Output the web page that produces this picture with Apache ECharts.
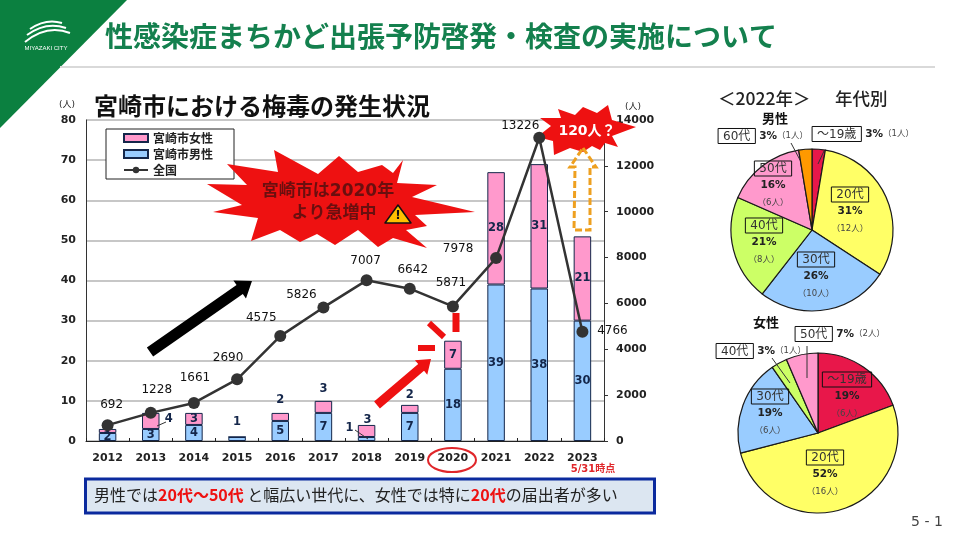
<!DOCTYPE html>
<html>
<head>
<meta charset="utf-8">
<title>宮崎市における梅毒の発生状況</title>
<script src="https://cdn.jsdelivr.net/npm/echarts@6/dist/echarts.min.js"></script>
<style>
    html, body { margin: 0; padding: 0; background: #fff; }
    #main { width: 960px; height: 540px; }
</style>
</head>
<body>
<div id="main"></div>
<script>
// 棒グラフ・折れ線のデータ
let years = ['2012', '2013', '2014', '2015', '2016', '2017', '2018', '2019', '2020', '2021', '2022', '2023'];
let maleCases = [2, 3, 4, 1, 5, 7, 1, 7, 18, 39, 38, 30];
let femaleCases = [1, 4, 3, 0, 2, 3, 3, 2, 7, 28, 31, 21];
let nationalCases = [692, 1228, 1661, 2690, 4575, 5826, 7007, 6642, 5871, 7978, 13226, 4766];

// 円グラフのデータ(2022年)
let maleAges = ['～19歳', '20代', '30代', '40代', '50代', '60代'];
let maleCounts = [1, 12, 10, 8, 6, 1];
let malePercents = [3, 31, 26, 21, 16, 3];
let femaleAges = ['～19歳', '20代', '30代', '40代', '50代'];
let femaleCounts = [6, 16, 6, 1, 2];
let femalePercents = [19, 52, 19, 3, 7];

let FONT = '"DejaVu Sans", "Noto Sans CJK JP", sans-serif';
let JP_FONT = '"Noto Sans CJK JP", sans-serif';
let AXIS_TEXT = '#222';
let RED = '#ee1111';

// ラベルの位置調整 (index -> [dx, dy])
let maleLabelOffset = {3: [0, -17], 6: [-17, -11]};
let femaleLabelOffset = {1: [18, -2], 4: [0, -17], 5: [0, -18], 6: [1, -11], 7: [0, -14]};
let nationalLabelOffset = [
    [4, -20], [6, -23], [1, -25], [-9, -21], [-19, -18], [-22, -13],
    [-1, -19], [3, -19], [-2, -24], [-38, -9], [-19, -12], [30, -1]
];

// 円グラフのラベル中心
let maleLabelPos = [[863, 134], [850, 212], [816, 277], [764, 243], [773, 186], [763, 136]];
let femaleLabelPos = [[847, 397], [825, 475], [770, 414], [761, 351], [840, 334]];
let maleColors = ['#e8174a', '#ffff66', '#99ccff', '#ccff66', '#ff99cc', '#ff9900'];
let femaleColors = ['#e8174a', '#ffff66', '#99ccff', '#ccff66', '#ff99cc'];

function barItems(values, offsets) {
    return values.map(function (value, i) {
        let label = {show: value > 0};
        if (offsets[i]) {
            label.offset = offsets[i];
        }
        return {value: value, label: label};
    });
}

function pieSeries(ages, counts, percents, colors, positions, center, radius) {
    return {
        type: 'pie',
        center: center,
        radius: radius,
        startAngle: 90,
        clockwise: true,
        silent: true,
        animation: false,
        data: ages.map(function (age, i) {
            return {name: age, value: counts[i], itemStyle: {color: colors[i]}};
        }),
        itemStyle: {borderColor: '#1a1a1a', borderWidth: 1.2},
        labelLine: {show: false},
        label: {
            show: true,
            position: 'inside',
            color: '#333',
            fontFamily: FONT,
            formatter: function (params) {
                let i = params.dataIndex;
                let n = '（' + counts[i] + '人）';
                if (percents[i] <= 7) {
                    return '{box|' + ages[i] + '} {pct|' + percents[i] + '%}{cnt|' + n + '}';
                }
                return '{box|' + ages[i] + '}\n{pct|' + percents[i] + '%}\n{cnt|' + n + '}';
            },
            rich: {
                box: {
                    fontFamily: FONT, fontSize: 12, color: '#333', lineHeight: 14,
                    borderColor: '#111', borderWidth: 1, padding: [2, 5, 1, 5]
                },
                pct: {fontFamily: FONT, fontSize: 10.5, fontWeight: 'bold', color: '#222', lineHeight: 20},
                cnt: {fontFamily: FONT, fontSize: 8.5, color: '#444', lineHeight: 15}
            }
        },
        labelLayout: function (params) {
            let p = positions[params.dataIndex];
            return {x: p[0], y: p[1], align: 'center', verticalAlign: 'middle'};
        }
    };
}

// 矢印のポリゴンを作る
function arrowPoints(x0, y0, x1, y1, shaft, head, headLength) {
    let len = Math.sqrt((x1 - x0) * (x1 - x0) + (y1 - y0) * (y1 - y0));
    let ux = (x1 - x0) / len, uy = (y1 - y0) / len;
    let nx = -uy, ny = ux;
    let bx = x1 - ux * headLength, by = y1 - uy * headLength;
    return [
        [x0 + nx * shaft / 2, y0 + ny * shaft / 2],
        [bx + nx * shaft / 2, by + ny * shaft / 2],
        [bx + nx * head / 2, by + ny * head / 2],
        [x1, y1],
        [bx - nx * head / 2, by - ny * head / 2],
        [bx - nx * shaft / 2, by - ny * shaft / 2],
        [x0 - nx * shaft / 2, y0 - ny * shaft / 2]
    ];
}

function polygon(points, style, z) {
    return {type: 'polygon', silent: true, z: z, shape: {points: points}, style: style};
}

function line(x1, y1, x2, y2, color, width, z) {
    return {
        type: 'line', silent: true, z: z,
        shape: {x1: x1, y1: y1, x2: x2, y2: y2},
        style: {stroke: color, lineWidth: width}
    };
}

function curve(x1, y1, cpx, cpy, x2, y2) {
    return {
        type: 'bezierCurve', silent: true, z: 2,
        shape: {x1: x1, y1: y1, x2: x2, y2: y2, cpx1: cpx, cpy1: cpy},
        style: {stroke: '#fff', lineWidth: 2, fill: null}
    };
}

function text(x, y, str, font, color, z, align) {
    return {
        type: 'text', silent: true, z: z, x: x, y: y,
        style: {text: str, font: font, fill: color, align: align || 'center', verticalAlign: 'middle'}
    };
}

let bigStar = [
    [227, 164], [278, 172], [274, 150], [318, 174], [339, 156], [358, 172], [382, 165], [393, 173], [403, 160],
    [397, 183], [437, 185], [412, 197], [475, 212], [415, 215], [427, 226], [406, 230], [427, 248], [393, 238],
    [378, 247], [358, 230], [335, 245], [317, 234], [300, 242], [280, 230], [251, 241], [258, 218], [213, 212],
    [242, 205], [207, 184], [247, 185]
];
let smallStar = [
    [636, 127], [612, 120], [608, 105], [597, 113], [583, 107], [575, 115], [558, 109], [561, 118], [540, 118],
    [551, 126], [537, 137], [553, 141], [554, 155], [570, 148], [583, 152], [592, 146], [600, 150], [605, 143],
    [618, 147], [612, 136]
];
let orangeArrow = [
    [583, 148], [596, 167], [590, 167], [590, 230], [574, 230], [575, 167], [570, 167]
];

let graphicElements = [
    // ヘッダー
    polygon([[0, 0], [127, 0], [0, 128]], {fill: '#0b8040'}, 1),
    curve(30, 29, 46, 18, 62, 23),
    curve(27, 35, 46, 21, 66, 28),
    curve(25, 42, 47, 24, 70, 33),
    text(46, 48, 'MIYAZAKI CITY', '6px "Liberation Sans", sans-serif', '#fff', 2),
    line(60, 67, 935, 67, '#d9d9d9', 2, 1),
    // 吹き出し
    polygon(bigStar, {fill: '#ee1111'}, 20),
    text(328, 192, '宮崎市は2020年', 'bold 17px ' + FONT, '#6a0f0f', 21),
    text(334, 214, 'より急増中', 'bold 17px ' + FONT, '#6a0f0f', 21),
    polygon([[398, 205], [411, 223], [385, 223]], {fill: '#ffc000', stroke: '#111', lineWidth: 1.5, lineJoin: 'round'}, 21),
    text(398, 216, '!', 'bold 12px ' + FONT, '#111', 22),
    polygon(smallStar, {fill: '#ee1111'}, 1),
    text(587, 131, '120人？', 'bold 14px ' + FONT, '#fff', 3),
    polygon(orangeArrow, {fill: null, stroke: '#eea020', lineWidth: 3, lineDash: [7, 3]}, 3),
    // 矢印と強調
    polygon(arrowPoints(150, 352, 252, 281, 11, 22, 15), {fill: '#000'}, 10),
    polygon(arrowPoints(377, 405, 431, 359, 9, 19, 13), {fill: RED}, 10),
    line(429, 323, 444, 337, RED, 6, 10),
    line(418, 348, 435, 348, RED, 6, 10),
    line(456, 313, 456, 332, RED, 7, 10),
    {
        type: 'ellipse', silent: true, z: 10,
        shape: {cx: 452, cy: 460, rx: 24, ry: 12},
        style: {fill: null, stroke: '#e0262a', lineWidth: 2}
    },
    text(593, 469, '5/31時点', 'bold 10px ' + FONT, '#e0262a', 10),
    // 棒の引き出し線
    line(157, 426, 166, 422, '#333', 1, 10),
    line(355, 430, 368, 439, '#333', 1, 10),
    // 説明ボックス
    {
        type: 'rect', silent: true, z: 5,
        shape: {x: 85.5, y: 479, width: 569, height: 34},
        style: {fill: '#dce6f1', stroke: '#0b2a9e', lineWidth: 3}
    },
    {
        type: 'text', silent: true, z: 6, x: 94, y: 495,
        style: {
            text: '男性では{hl|20代～50代} と幅広い世代に、女性では特に{hl|20代}の届出者が多い',
            font: '16px ' + JP_FONT,
            fill: '#222',
            verticalAlign: 'middle',
            rich: {hl: {font: 'bold 16px ' + JP_FONT, fill: RED}}
        }
    },
    // 円グラフの見出し
    text(718, 98, '＜2022年＞', '500 17.5px ' + JP_FONT, '#222', 5, 'left'),
    text(835, 98, '年代別', '500 17.5px ' + JP_FONT, '#222', 5, 'left'),
    text(775, 118, '男性', 'bold 13px ' + JP_FONT, '#111', 5),
    text(766, 322, '女性', 'bold 13px ' + JP_FONT, '#111', 5),
    // 円グラフの引き出し線
    line(791, 143, 800, 160, '#333', 1, 5),
    line(824, 151, 818, 164, '#333', 1, 5),
    line(772, 358, 790, 383, '#333', 1, 5),
    line(807, 346, 807, 378, '#333', 1, 5),
    text(927, 522, '5 - 1', '14px ' + FONT, '#444', 5)
];

let chart = echarts.init(document.getElementById('main'), null, {renderer: 'canvas'});

let option = {
    backgroundColor: '#fff',
    animation: false,
    title: [
        {
            text: '性感染症まちかど出張予防啓発・検査の実施について',
            left: 100, top: 17,
            textStyle: {fontFamily: JP_FONT, fontSize: 28, fontWeight: 'bold', color: '#14804e'}
        },
        {
            text: '宮崎市における梅毒の発生状況',
            left: 89, top: 89,
            textStyle: {fontFamily: JP_FONT, fontSize: 24, fontWeight: 'bold', color: '#111'}
        }
    ],
    legend: {
        left: 106, top: 129,
        orient: 'vertical',
        width: 130,
        padding: [3, 21, 3, 17],
        itemGap: 4,
        itemWidth: 24,
        itemHeight: 8,
        backgroundColor: '#fff',
        borderColor: '#222',
        borderWidth: 1,
        z: 6,
        data: [{name: '宮崎市女性', icon: 'rect'}, {name: '宮崎市男性', icon: 'rect'}, {name: '全国'}],
        textStyle: {fontFamily: JP_FONT, fontSize: 12, color: '#222', fontWeight: 'bold', padding: [0, 0, 0, 0]}
    },
    grid: {left: 86, right: 356, top: 120, height: 321},
    xAxis: {
        type: 'category',
        data: years,
        axisLine: {lineStyle: {color: '#222', width: 1}},
        axisTick: {show: true, inside: true, length: 3, lineStyle: {color: '#222'}},
        axisLabel: {fontFamily: FONT, fontSize: 11, fontWeight: 'bold', color: AXIS_TEXT, margin: 12, interval: 0}
    },
    yAxis: [
        {
            type: 'value',
            min: 0,
            max: 80,
            interval: 10,
            name: '(人)',
            nameGap: 11,
            nameTextStyle: {fontFamily: FONT, fontSize: 9, color: AXIS_TEXT, padding: [0, 38, 0, 0]},
            axisLine: {show: true, lineStyle: {color: '#333', width: 1}},
            axisTick: {show: false},
            splitLine: {show: true, lineStyle: {color: '#b4b4b4', width: 1.5}},
            axisLabel: {fontFamily: FONT, fontSize: 11, fontWeight: 'bold', color: AXIS_TEXT, margin: 10}
        },
        {
            type: 'value',
            position: 'right',
            min: 0,
            max: 14000,
            interval: 2000,
            name: '(人)',
            nameGap: 9,
            nameTextStyle: {fontFamily: FONT, fontSize: 9, color: AXIS_TEXT, padding: [0, 0, 0, 58]},
            axisLine: {show: true, lineStyle: {color: '#333', width: 1}},
            axisTick: {show: true, length: 4, lineStyle: {color: '#333'}},
            splitLine: {show: false},
            axisLabel: {
                fontFamily: FONT,
                fontSize: 11,
                fontWeight: 'bold',
                color: AXIS_TEXT,
                margin: 12,
                formatter: function (value) {
                    return String(value);
                }
            }
        }
    ],
    graphic: {elements: graphicElements},
    series: [
        {
            name: '宮崎市男性',
            type: 'bar',
            stack: 'miyazaki',
            barWidth: 17.5,
            itemStyle: {color: '#99ccff', borderColor: '#14264a', borderWidth: 1},
            label: {position: 'inside', fontFamily: FONT, fontSize: 11.5, fontWeight: 'bold', color: '#14264a'},
            data: barItems(maleCases, maleLabelOffset)
        },
        {
            name: '宮崎市女性',
            type: 'bar',
            stack: 'miyazaki',
            barWidth: 17.5,
            itemStyle: {color: '#ff99cc', borderColor: '#14264a', borderWidth: 1},
            label: {position: 'inside', fontFamily: FONT, fontSize: 11.5, fontWeight: 'bold', color: '#14264a'},
            data: barItems(femaleCases, femaleLabelOffset)
        },
        {
            name: '全国',
            type: 'line',
            yAxisIndex: 1,
            z: 4,
            symbol: 'circle',
            symbolSize: 12,
            lineStyle: {color: '#333', width: 2.5},
            itemStyle: {color: '#333'},
            label: {
                show: true,
                position: 'inside',
                fontFamily: FONT,
                fontSize: 12,
                color: '#111'
            },
            data: nationalCases.map(function (value, i) {
                return {value: value, label: {offset: nationalLabelOffset[i]}};
            })
        },
        pieSeries(maleAges, maleCounts, malePercents, maleColors, maleLabelPos, [812, 230], 81),
        pieSeries(femaleAges, femaleCounts, femalePercents, femaleColors, femaleLabelPos, [818, 433], 80)
    ]
};

chart.setOption(option);
</script>
</body>
</html>
